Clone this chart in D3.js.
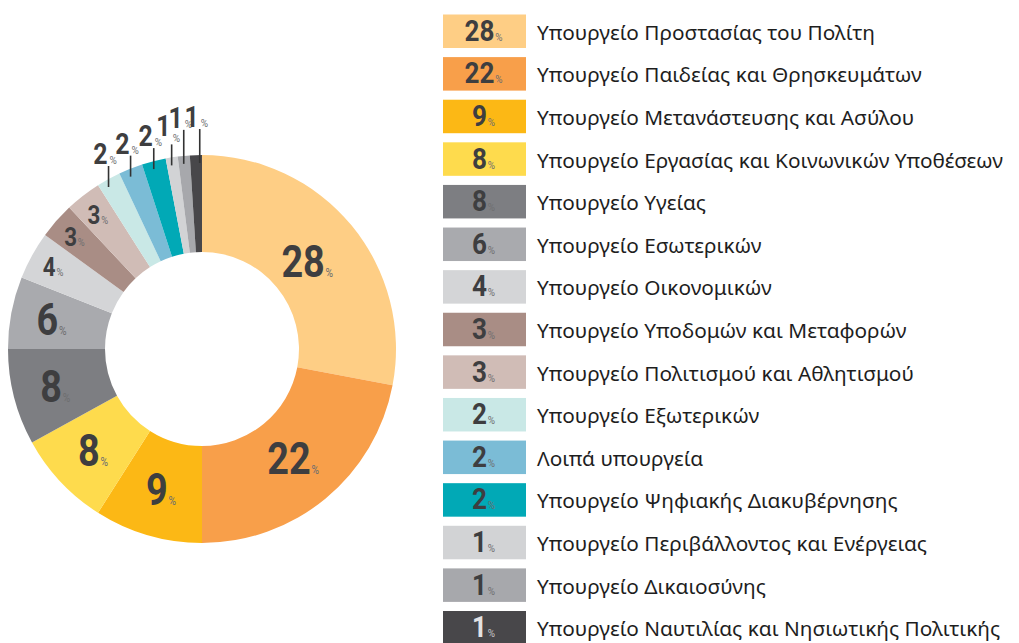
<!DOCTYPE html>
<html>
<head>
<meta charset="utf-8">
<script src="https://cdn.jsdelivr.net/npm/d3@7"></script>
<style>
  body { margin: 0; background: #fff; }
  svg { display: block; }
</style>
</head>
<body>
<svg id="chart"></svg>
<script>
const ministries = [
  'Υπουργείο Προστασίας του Πολίτη',
  'Υπουργείο Παιδείας και Θρησκευμάτων',
  'Υπουργείο Μετανάστευσης και Ασύλου',
  'Υπουργείο Εργασίας και Κοινωνικών Υποθέσεων',
  'Υπουργείο Υγείας',
  'Υπουργείο Εσωτερικών',
  'Υπουργείο Οικονομικών',
  'Υπουργείο Υποδομών και Μεταφορών',
  'Υπουργείο Πολιτισμού και Αθλητισμού',
  'Υπουργείο Εξωτερικών',
  'Λοιπά υπουργεία',
  'Υπουργείο Ψηφιακής Διακυβέρνησης',
  'Υπουργείο Περιβάλλοντος και Ενέργειας',
  'Υπουργείο Δικαιοσύνης',
  'Υπουργείο Ναυτιλίας και Νησιωτικής Πολιτικής'
];
const shares = [28, 22, 9, 8, 8, 6, 4, 3, 3, 2, 2, 2, 1, 1, 1];
const palette = [
  '#fece85', '#f89f4a', '#fcb815', '#fedb4d', '#7d7e82', '#a9aaae', '#d4d5d7',
  '#a98d85', '#d0bcb6', '#c9e8e6', '#7bbcd6', '#01a9b6', '#d2d3d5', '#a7a8ac', '#48474a'
];

const width = 1019, height = 643;
const cx = 202, cy = 349, outerR = 194, innerR = 97;
const numFont = 'Roboto, "DejaVu Sans", sans-serif';
const dark = '#3e3e40', pctColor = '#6e6e70';

const svg = d3.select('#chart').attr('width', width).attr('height', height);

const color = d3.scaleOrdinal().domain(ministries).range(palette);
const data = ministries.map((name, i) => ({ name, value: shares[i], i }));

const pie = d3.pie().value(d => d.value).sort(null);
const arc = d3.arc().innerRadius(innerR).outerRadius(outerR);
const arcs = pie(data);

const donut = svg.append('g').attr('transform', `translate(${cx},${cy})`);

donut.selectAll('path')
  .data(arcs)
  .enter().append('path')
  .attr('d', arc)
  .attr('fill', d => color(d.data.name));

// label radius drifts outward going round the ring
const bigR = d3.scaleLinear().domain([0, 2 * Math.PI]).range([133, 159]);
const smallR = 170;

function addLabel(g, x, y, value, size, pctSize, sx) {
  const t = g.append('text')
    .attr('transform', `translate(${x},${y}) scale(${sx},1)`)
    .attr('text-anchor', 'middle')
    .attr('font-family', numFont);
  t.append('tspan')
    .attr('font-weight', 700)
    .attr('font-size', size)
    .attr('fill', dark)
    .text(value);
  t.append('tspan')
    .attr('font-size', pctSize)
    .attr('fill', pctColor)
    .attr('dx', 1)
    .text('%');
}

arcs.forEach(d => {
  const v = d.data.value;
  const mid = (d.startAngle + d.endAngle) / 2;
  if (v >= 6) {
    const r = bigR(mid);
    addLabel(donut, r * Math.sin(mid), -r * Math.cos(mid) + 15, v, 44, 12, 0.86);
  } else if (v >= 3) {
    addLabel(donut, smallR * Math.sin(mid), -smallR * Math.cos(mid) + 9, v, 26, 11, 0.86);
  }
});

// small slices: leader lines above the ring
const outside = arcs.filter(d => d.data.value <= 2).map((d, k, all) => {
  const mid = (d.startAngle + d.endAngle) / 2;
  return { d, x: outerR * Math.sin(mid), lift: k >= all.length - 2 ? 26 : 13 };
});
// push apart labels sitting at the same height
for (let k = 1; k < outside.length; k++) {
  const prev = outside[k - 1], cur = outside[k];
  if (prev.lift === cur.lift && cur.x - prev.x < 16) cur.x = prev.x + 16;
}
outside.forEach((o, k) => {
  const x = o.x;
  const yEdge = -Math.sqrt(outerR * outerR - x * x);
  const top = yEdge - o.lift;
  // a narrow low label sits a little higher so it clears the neighbour's %
  const raise = o.d.data.value === 1 && o.lift === 13 ? 8 : 2;
  donut.append('line')
    .attr('x1', x).attr('x2', x)
    .attr('y1', yEdge + 8).attr('y2', top)
    .attr('stroke', '#333')
    .attr('stroke-width', 1.6);
  donut.append('text')
    .attr('transform', `translate(${x - 1},${top - raise}) scale(0.86,1)`)
    .attr('text-anchor', 'end')
    .attr('font-family', numFont)
    .attr('font-weight', 700)
    .attr('font-size', 29)
    .attr('fill', dark)
    .text(o.d.data.value);
  donut.append('text')
    .attr('x', x + 1).attr('y', top - 2)
    .attr('font-family', numFont)
    .attr('font-size', 10)
    .attr('fill', pctColor)
    .text('%');
});

// legend
const rowY = d3.scaleLinear().domain([0, ministries.length - 1]).range([14.5, 611]);
const swX = 443, swW = 83, swH = 33.5;

const rows = svg.append('g').selectAll('g')
  .data(data)
  .enter().append('g')
  .attr('transform', d => `translate(0,${rowY(d.i)})`);

rows.append('rect')
  .attr('x', swX).attr('width', swW).attr('height', swH)
  .attr('fill', d => color(d.name));

rows.each(function (d) {
  const g = d3.select(this);
  const last = d.i === ministries.length - 1;
  const t = g.append('text')
    .attr('transform', `translate(${swX + swW / 2 - 1},${swH / 2 + 9.5}) scale(0.9,1)`)
    .attr('text-anchor', 'middle')
    .attr('font-family', numFont);
  t.append('tspan')
    .attr('font-weight', 700)
    .attr('font-size', 29)
    .attr('fill', last ? '#e2e2e4' : dark)
    .text(d.value);
  t.append('tspan')
    .attr('font-size', 11)
    .attr('fill', last ? '#c8c8ca' : pctColor)
    .attr('dx', 1)
    .text('%');
});

rows.append('text')
  .attr('x', 537)
  .attr('y', swH / 2 + 8.5)
  .attr('font-family', '"Noto Sans", sans-serif')
  .attr('font-size', 20.8)
  .attr('fill', '#1e1e1e')
  .text(d => d.name);
</script>
</body>
</html>
